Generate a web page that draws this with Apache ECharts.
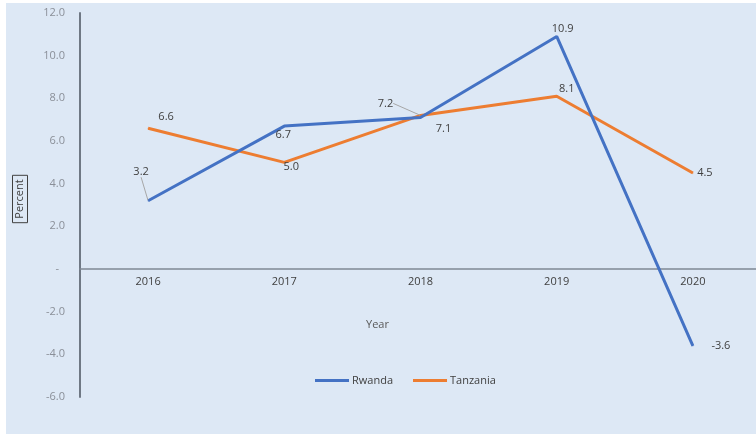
<!DOCTYPE html>
<html><head><meta charset="utf-8">
<script src="https://cdn.jsdelivr.net/npm/echarts@6/dist/echarts.min.js"></script>
<style>
html,body{margin:0;padding:0;background:#fff;}
#wrap{position:relative;width:756px;height:434px;overflow:hidden;}
#bg{position:absolute;left:6px;top:3px;right:0;bottom:0;background:#dde8f5;}
#chart{position:absolute;left:0;top:0;width:766px;height:434px;}
</style></head>
<body>
<div id="wrap"><div id="bg"></div><div id="chart"></div></div>
<script>
const years = ['2016', '2017', '2018', '2019', '2020'];
const rwanda = [3.2, 6.7, 7.1, 10.9, -3.6];
const tanzania = [6.6, 5.0, 7.2, 8.1, 4.5];
const seriesNames = ['Rwanda', 'Tanzania'];
const yTicks = { min: -6, max: 12, step: 2 };

// label placement (offset of label centre from its point, px) and leader-line flags
const labelOffsets = [
  [[-7, -29], [-1, 9], [23, 11], [6, -8], [28, 0]],
  [[18, -11], [7, 5], [-35, -12], [10, -7], [12, 0]]
];
const leaderLines = [
  [true, false, false, false, false],
  [false, false, true, false, false]
];

const chart = echarts.init(document.getElementById('chart'), null, { renderer: 'canvas' });
const font = 'Open Sans';
const colors = ['#4472c4', '#ed7d31'];

function buildData(vals, si) {
  return vals.map((v, i) => ({
    value: v,
    labelLine: { show: leaderLines[si][i], lineStyle: { color: '#a6a6a6', width: 1 } }
  }));
}

function makeSeries(name, vals, si) {
  return {
    name: name,
    type: 'line',
    data: buildData(vals, si),
    symbol: 'circle',
    symbolSize: 1,
    showSymbol: true,
    itemStyle: { color: colors[si] },
    lineStyle: { color: colors[si], width: 3 },
    label: {
      show: true,
      position: 'inside',
      formatter: p => p.value.toFixed(1),
      color: '#404040',
      fontFamily: font,
      fontSize: 11
    },
    labelLine: { show: false, smooth: false },
    labelLayout: function (params) {
      const off = labelOffsets[params.seriesIndex][params.dataIndex];
      const r = params.rect;
      return {
        x: r.x + r.width / 2 + off[0],
        y: r.y + r.height / 2 + off[1],
        align: 'center',
        verticalAlign: 'middle'
      };
    },
    z: si === 0 ? 3 : 2
  };
}

chart.setOption({
  animation: false,
  backgroundColor: 'transparent',
  grid: { left: 80, right: 5, top: 13, bottom: 37, containLabel: false },
  xAxis: {
    type: 'category',
    data: years,
    boundaryGap: true,
    offset: -128,
    axisLine: { onZero: false, lineStyle: { color: '#7f8894', width: 1.5 } },
    axisTick: { show: false },
    axisLabel: { color: '#404040', fontFamily: font, fontSize: 11, margin: 7 },
    splitLine: { show: false }
  },
  yAxis: {
    type: 'value',
    min: yTicks.min,
    max: yTicks.max,
    interval: yTicks.step,
    axisLine: { show: true, onZero: false, lineStyle: { color: '#6f7884', width: 2 } },
    axisTick: { show: false },
    splitLine: { show: false },
    axisLabel: {
      color: '#8a8f98',
      fontFamily: font,
      fontSize: 11,
      margin: 15,
      formatter: v => v === 0 ? '{z|-}' : v.toFixed(1),
      rich: { z: { padding: [0, 6, 0, 0], color: '#8a8f98', fontFamily: font, fontSize: 11 } }
    }
  },
  legend: {
    data: seriesNames,
    left: 310,
    top: 370,
    icon: 'rect',
    itemWidth: 34,
    itemHeight: 3,
    itemGap: 20,
    textStyle: { color: '#404040', fontFamily: font, fontSize: 11, padding: [0, 0, 0, -2] }
  },
  graphic: [
    {
      type: 'text',
      left: 366,
      top: 319,
      style: { text: 'Year', fill: '#595959', font: '11px "Open Sans"' }
    },
    {
      type: 'text',
      x: 20,
      y: 199,
      rotation: Math.PI / 2,
      style: {
        text: 'Percent',
        fill: '#404040',
        font: '11px "Open Sans"',
        align: 'center',
        verticalAlign: 'middle',
        borderColor: '#404040',
        borderWidth: 1,
        padding: [2, 4, 2, 4]
      }
    }
  ],
  series: [
    makeSeries(seriesNames[0], rwanda, 0),
    makeSeries(seriesNames[1], tanzania, 1)
  ]
});
</script>
</body></html>
